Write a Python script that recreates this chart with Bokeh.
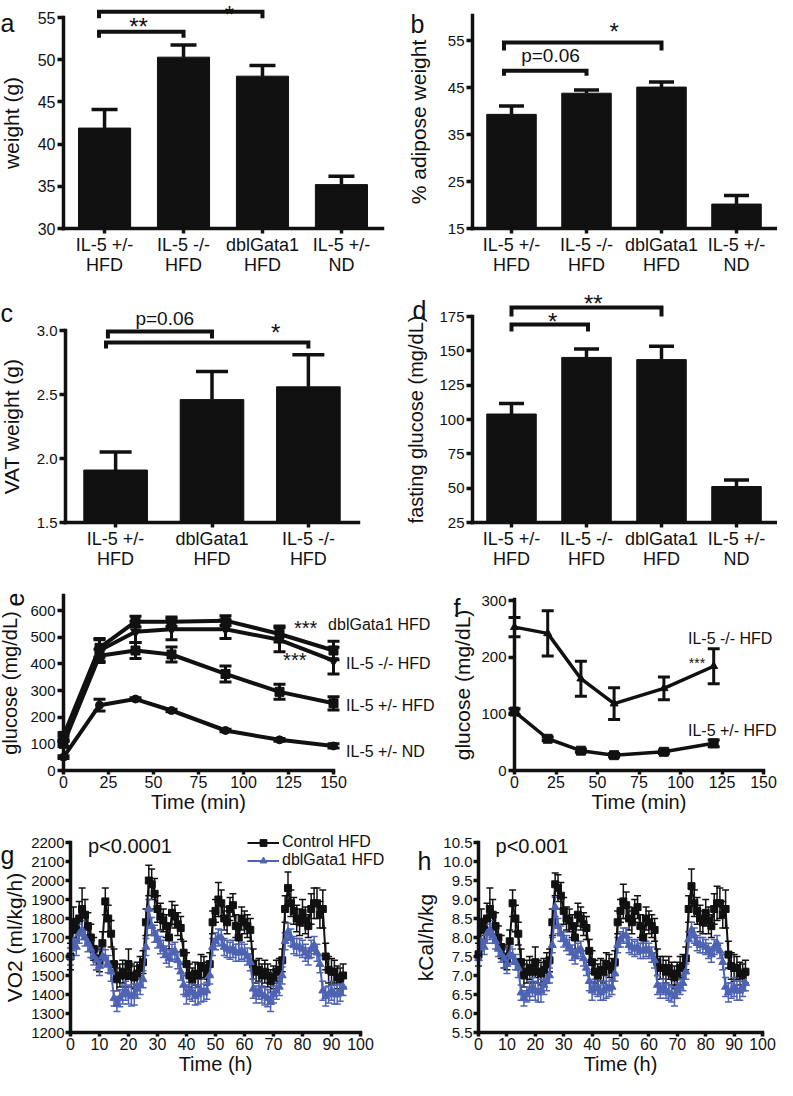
import math
from bokeh.plotting import figure
from bokeh.models import (Range1d, FixedTicker, Label, Legend, LegendItem,
                          PrintfTickFormatter, ColumnDataSource, Whisker, TeeHead)
from bokeh.layouts import row, column
from bokeh.embed import file_html
from bokeh.resources import INLINE
from bokeh.core.properties import value

FONT = "Liberation Sans"
INK = "#111111"
BLUE = "#4f63b3"

# ---------------- data ----------------
# a: body weight
a_groups = ["IL-5 +/-\nHFD", "IL-5 -/-\nHFD", "dblGata1\nHFD", "IL-5 +/-\nND"]
a_mean = [41.9, 50.3, 48.05, 35.2]
a_sem = [2.2, 1.45, 1.25, 1.0]
a_yticks = [30, 35, 40, 45, 50, 55]
a_brk = [(-0.07, 1.0, 53.3, 52.6), (-0.07, 2.0, 55.67, 54.9)]
a_txt = [(0.43, 53.95, "**", 24), (1.58, 55.36, "*", 24)]

# b: % adipose weight
b_groups = ["IL-5 +/-\nHFD", "IL-5 -/-\nHFD", "dblGata1\nHFD", "IL-5 +/-\nND"]
b_mean = [39.3, 43.8, 45.1, 20.2]
b_sem = [1.8, 0.7, 1.1, 1.8]
b_yticks = [15, 25, 35, 45, 55]
b_brk = [(-0.1, 1.0, 48.6, 47.5), (-0.1, 2.0, 54.6, 52.9)]
b_txt = [(0.52, 51.83, "p=0.06", 19), (1.37, 56.86, "*", 24)]

# c: VAT weight
c_groups = ["IL-5 +/-\nHFD", "dblGata1\nHFD", "IL-5 -/-\nHFD"]
c_mean = [1.91, 2.46, 2.56]
c_sem = [0.14, 0.22, 0.25]
c_yticks = [1.5, 2.0, 2.5, 3.0]
c_brk = [(-0.08, 1.0, 2.992, 2.9375), (-0.1, 2.0, 2.906, 2.859)]
c_txt = [(0.51, 3.09, "p=0.06", 19), (1.66, 2.981, "*", 24)]

# d: fasting glucose
d_groups = ["IL-5 +/-\nHFD", "IL-5 -/-\nHFD", "dblGata1\nHFD", "IL-5 +/-\nND"]
d_mean = [104, 145.2, 143.6, 51.2]
d_sem = [7.7, 6.2, 9.7, 4.8]
d_yticks = [25, 50, 75, 100, 125, 150, 175]
d_brk = [(0.0, 1.02, 169.2, 164.1), (0.0, 2.0, 181.6, 175.0)]
d_txt = [(0.55, 171.4, "*", 24), (1.09, 184.2, "**", 24)]

# e: glucose tolerance
e_time = [0, 20, 40, 60, 90, 120, 150]
e_dbl = [130, 460, 558, 558, 562, 512, 450]
e_dbl_err = [12, 35, 20, 18, 18, 30, 35]
e_ko = [120, 450, 520, 530, 530, 490, 412]
e_ko_err = [10, 40, 40, 40, 35, 45, 50]
e_het = [100, 430, 450, 435, 362, 295, 252]
e_het_err = [10, 25, 30, 28, 30, 28, 25]
e_nd = [50, 245, 268, 225, 150, 115, 92]
e_nd_err = [5, 22, 5, 5, 5, 5, 8]
e_xticks = [0, 25, 50, 75, 100, 125, 150]
e_yticks = [0, 100, 200, 300, 400, 500, 600]
e_lab_x = [128, 147, 122, 157, 157, 157]
e_lab_y = [536, 547, 414, 401, 244, 71]
e_lab_t = ["***", "dblGata1 HFD", "***", "IL-5 -/- HFD", "IL-5 +/- HFD", "IL-5 +/- ND"]
e_lab_s = ["20px", "16px", "20px", "16px", "16px", "16px"]

# f: insulin tolerance
f_time = [0, 20, 40, 60, 90, 120]
f_ko = [253, 242, 162, 118, 145, 184]
f_ko_err = [17, 40, 31, 28, 20, 31]
f_het = [104, 56, 35, 27, 33, 48]
f_het_err = [5, 3, 3, 3, 3, 6]
f_xticks = [0, 25, 50, 75, 100, 125, 150]
f_yticks = [0, 100, 200, 300]
f_lab_x = [104.5, 105, 104.5]
f_lab_y = [233, 189, 70.6]
f_lab_t = ["IL-5 -/- HFD", "***", "IL-5 +/- HFD"]
f_lab_s = ["16px", "14px", "16px"]

# g/h: indirect calorimetry, hourly
gh_time = list(range(95))
g_ctrl = [1600, 1780, 1740, 1800, 1850, 1820, 1760, 1700, 1640, 1590,
          1580, 1670, 1890, 1800, 1720, 1560, 1480, 1500, 1520, 1500,
          1560, 1500, 1490, 1510, 1540, 1570, 1780, 2000, 1980, 1930,
          1850, 1810, 1790, 1760, 1700, 1830, 1810, 1770, 1750, 1620,
          1560, 1500, 1480, 1510, 1500, 1550, 1540, 1510, 1560, 1780,
          1840, 1900, 1880, 1800, 1780, 1850, 1870, 1760, 1700, 1800,
          1780, 1760, 1740, 1560, 1520, 1530, 1500, 1520, 1500, 1470,
          1490, 1520, 1530, 1580, 1850, 1960, 1880, 1840, 1800, 1780,
          1830, 1790, 1760, 1850, 1880, 1880, 1820, 1850, 1600, 1530,
          1520, 1520, 1490, 1480, 1500]
g_ctrl_err = [70, 80, 60, 90, 110, 80, 70, 70, 60, 60,
              60, 60, 70, 70, 70, 80, 60, 60, 60, 60,
              80, 60, 60, 60, 60, 60, 70, 80, 80, 80,
              70, 70, 60, 60, 60, 60, 60, 60, 60, 60,
              60, 60, 60, 60, 60, 60, 60, 60, 60, 60,
              60, 90, 70, 60, 60, 60, 60, 60, 70, 60,
              60, 60, 60, 80, 60, 60, 60, 60, 60, 60,
              60, 60, 60, 60, 70, 85, 70, 70, 70, 70,
              70, 70, 60, 80, 80, 80, 70, 100, 70, 70,
              70, 60, 60, 60, 60]
g_dbl = [1600, 1680, 1650, 1720, 1740, 1700, 1670, 1640, 1600, 1580,
         1550, 1600, 1590, 1560, 1520, 1380, 1350, 1380, 1400, 1420,
         1400, 1390, 1400, 1430, 1450, 1480, 1650, 1850, 1760, 1720,
         1690, 1660, 1640, 1610, 1590, 1620, 1630, 1580, 1520, 1450,
         1400, 1420, 1410, 1390, 1400, 1420, 1410, 1420, 1500, 1650,
         1680, 1700, 1700, 1650, 1640, 1630, 1640, 1620, 1620, 1630,
         1620, 1600, 1570, 1430, 1400, 1420, 1400, 1390, 1380, 1360,
         1400, 1420, 1440, 1500, 1680, 1730, 1700, 1660, 1650, 1650,
         1640, 1620, 1600, 1640, 1660, 1620, 1560, 1420, 1390, 1400,
         1420, 1400, 1400, 1410, 1440]
g_dbl_err = [45, 50, 45, 50, 50, 45, 45, 45, 45, 50,
             50, 45, 45, 45, 50, 40, 40, 45, 50, 50,
             50, 50, 55, 50, 50, 45, 45, 50, 45, 45,
             45, 45, 45, 45, 45, 45, 45, 45, 45, 50,
             50, 45, 45, 45, 50, 60, 45, 45, 45, 45,
             45, 45, 40, 45, 45, 45, 45, 45, 45, 45,
             45, 45, 45, 50, 45, 45, 45, 45, 45, 50,
             45, 45, 45, 45, 45, 45, 45, 45, 45, 45,
             45, 45, 45, 45, 45, 45, 45, 50, 50, 45,
             50, 50, 50, 45, 45]
h_ctrl = [7.55, 8.4, 8.2, 8.5, 8.75, 8.6, 8.3, 8.0, 7.75, 7.5,
          7.45, 7.9, 8.9, 8.5, 8.1, 7.35, 7.0, 7.1, 7.2, 7.1,
          7.35, 7.1, 7.05, 7.15, 7.3, 7.4, 8.4, 9.4, 9.3, 9.1,
          8.7, 8.5, 8.45, 8.3, 8.0, 8.6, 8.5, 8.35, 8.25, 7.65,
          7.35, 7.1, 7.0, 7.15, 7.1, 7.3, 7.25, 7.15, 7.35, 8.4,
          8.7, 8.95, 8.85, 8.5, 8.4, 8.7, 8.8, 8.3, 8.0, 8.5,
          8.4, 8.3, 8.2, 7.35, 7.2, 7.2, 7.1, 7.2, 7.05, 6.95,
          7.05, 7.2, 7.25, 7.45, 8.75, 9.35, 8.9, 8.7, 8.5, 8.4,
          8.65, 8.45, 8.3, 8.75, 8.9, 8.9, 8.6, 8.75, 7.55, 7.25,
          7.2, 7.2, 7.05, 7.0, 7.1]
h_ctrl_err = [0.3, 0.35, 0.3, 0.4, 0.55, 0.4, 0.35, 0.3, 0.3, 0.3,
              0.3, 0.3, 0.35, 0.35, 0.3, 0.35, 0.3, 0.3, 0.3, 0.3,
              0.4, 0.3, 0.3, 0.3, 0.3, 0.3, 0.35, 0.3, 0.35, 0.35,
              0.35, 0.3, 0.3, 0.3, 0.3, 0.3, 0.3, 0.3, 0.3, 0.3,
              0.3, 0.3, 0.3, 0.3, 0.3, 0.3, 0.3, 0.3, 0.3, 0.3,
              0.3, 0.45, 0.35, 0.3, 0.3, 0.3, 0.3, 0.3, 0.3, 0.3,
              0.3, 0.3, 0.3, 0.35, 0.3, 0.3, 0.3, 0.3, 0.3, 0.3,
              0.3, 0.3, 0.3, 0.3, 0.35, 0.45, 0.35, 0.35, 0.35, 0.3,
              0.35, 0.35, 0.3, 0.4, 0.45, 0.4, 0.35, 0.5, 0.35, 0.35,
              0.35, 0.3, 0.3, 0.3, 0.3]
h_dbl = [7.45, 7.9, 7.75, 8.1, 8.2, 8.05, 7.9, 7.7, 7.55, 7.45,
         7.3, 7.55, 7.5, 7.35, 7.2, 6.55, 6.4, 6.5, 6.6, 6.7,
         6.6, 6.55, 6.6, 6.75, 6.85, 7.0, 7.8, 8.8, 8.3, 8.1,
         7.95, 7.85, 7.75, 7.6, 7.5, 7.65, 7.7, 7.45, 7.2, 6.85,
         6.6, 6.7, 6.65, 6.55, 6.6, 6.7, 6.65, 6.7, 7.05, 7.8,
         7.95, 8.05, 8.05, 7.8, 7.75, 7.7, 7.75, 7.65, 7.65, 7.7,
         7.65, 7.55, 7.4, 6.75, 6.6, 6.7, 6.6, 6.55, 6.5, 6.45,
         6.6, 6.7, 6.8, 7.1, 7.95, 8.2, 8.05, 7.85, 7.8, 7.8,
         7.75, 7.65, 7.55, 7.75, 7.85, 7.65, 7.35, 6.7, 6.55, 6.6,
         6.7, 6.6, 6.6, 6.65, 6.8]
h_dbl_err = [0.2, 0.25, 0.2, 0.25, 0.25, 0.2, 0.2, 0.2, 0.2, 0.25,
             0.25, 0.2, 0.2, 0.2, 0.25, 0.2, 0.2, 0.2, 0.25, 0.25,
             0.25, 0.25, 0.3, 0.25, 0.25, 0.2, 0.2, 0.25, 0.2, 0.2,
             0.2, 0.2, 0.2, 0.2, 0.2, 0.2, 0.2, 0.2, 0.2, 0.25,
             0.25, 0.2, 0.2, 0.2, 0.25, 0.3, 0.2, 0.2, 0.2, 0.2,
             0.2, 0.2, 0.2, 0.2, 0.2, 0.2, 0.2, 0.2, 0.2, 0.2,
             0.2, 0.2, 0.2, 0.25, 0.2, 0.2, 0.2, 0.2, 0.2, 0.25,
             0.2, 0.2, 0.2, 0.2, 0.2, 0.2, 0.2, 0.2, 0.2, 0.2,
             0.2, 0.2, 0.2, 0.2, 0.2, 0.2, 0.2, 0.25, 0.25, 0.2,
             0.25, 0.25, 0.25, 0.2, 0.2]
g_yticks = list(range(1200, 2201, 100))
h_yticks = [5.5, 6.0, 6.5, 7.0, 7.5, 8.0, 8.5, 9.0, 9.5, 10.0, 10.5]
gh_xticks = list(range(0, 101, 10))


# ---------------- helpers ----------------
def make_panel(W, H, xpx, xval, ypx, yval):
    """Whole-canvas frame; ranges chosen so that xval/yval land on given pixels."""
    kx = (xpx[1] - xpx[0]) / (xval[1] - xval[0])
    ky = (ypx[0] - ypx[1]) / (yval[1] - yval[0])
    xr = (xval[0] - xpx[0] / kx, xval[0] + (W - xpx[0]) / kx)
    yr = (yval[0] - (H - ypx[0]) / ky, yval[0] + ypx[0] / ky)
    p = figure(width=W, height=H, x_range=Range1d(*xr), y_range=Range1d(*yr),
               output_backend="svg", toolbar_location=None)
    p.min_border_left = p.min_border_right = 0
    p.min_border_top = p.min_border_bottom = 0
    p.title.visible = False
    p.outline_line_color = None
    p.grid.visible = False
    p.background_fill_color = "white"
    p.border_fill_color = "white"
    p.xaxis[0].fixed_location = yval[0]
    p.yaxis[0].fixed_location = xval[0]
    return p


def style_axis(ax, tick_size, label_size=21, tick_out=6, standoff=2, als=5):
    ax.axis_line_width = 3.5
    ax.axis_line_color = INK
    ax.axis_line_cap = "square"
    ax.major_tick_line_width = 3.5
    ax.major_tick_line_color = INK
    ax.major_tick_in = 0
    ax.major_tick_out = int(tick_out)
    ax.minor_tick_line_color = None
    ax.major_label_text_font = FONT
    ax.major_label_text_font_size = f"{tick_size}px"
    ax.major_label_text_color = INK
    ax.major_label_standoff = int(standoff)
    ax.axis_label_text_font = FONT
    ax.axis_label_text_font_size = f"{label_size}px"
    ax.axis_label_text_font_style = "normal"
    ax.axis_label_text_color = INK
    ax.axis_label_standoff = int(round(als))


def letter(p, H, x, y, text, size=25, angle=0.0, align="left", baseline="alphabetic"):
    p.add_layout(Label(x=x, y=H - y, x_units="screen", y_units="screen",
                       text=text, text_font=FONT, text_font_size=f"{size}px",
                       text_color=INK, text_align=align, text_baseline=baseline,
                       angle=angle))


def bar_panel(W, H, fl, fr, ypx, yval, ybounds, yticks, groups, means, sems,
              brk, txt, ylabel, als, cap, ytick_size=15, label_size=21, fmt=None):
    n = len(groups)
    xval = (-0.52, n - 0.48)
    p = make_panel(W, H, (fl, fr), xval, ypx, yval)
    xs = list(range(n))
    p.vbar(x=xs, top=means, bottom=yval[0], width=0.66, fill_color=INK, line_color=INK)
    src = ColumnDataSource(dict(x=xs, lo=means, hi=[m + s for m, s in zip(means, sems)]))
    p.add_layout(Whisker(source=src, base="x", lower="lo", upper="hi", line_color=INK,
                         line_width=3.5, lower_head=None,
                         upper_head=TeeHead(size=cap, line_color=INK, line_width=3.5)))
    p.multi_line(xs=[[b[0], b[0], b[1], b[1]] for b in brk],
                 ys=[[b[3], b[2], b[2], b[3]] for b in brk],
                 line_width=4, line_color=INK, line_join="miter")
    tsrc = ColumnDataSource(dict(x=[t[0] for t in txt], y=[t[1] for t in txt],
                                 t=[t[2] for t in txt], s=[f"{t[3]}px" for t in txt]))
    p.text(x="x", y="y", text="t", text_font_size="s", source=tsrc,
           text_font=value(FONT), text_align="center", text_baseline="middle",
           text_color=INK)
    xa, ya = p.xaxis[0], p.yaxis[0]
    style_axis(xa, 18, tick_out=5, standoff=1)
    xa.major_label_text_line_height = 1.0
    xa.ticker = FixedTicker(ticks=xs)
    xa.major_label_overrides = {i: g for i, g in enumerate(groups)}
    xa.bounds = xval
    style_axis(ya, ytick_size, label_size, tick_out=6, standoff=2, als=als)
    ya.ticker = FixedTicker(ticks=yticks)
    ya.bounds = ybounds
    if fmt:
        ya.formatter = PrintfTickFormatter(format=fmt)
    ya.axis_label = ylabel
    return p


def series(p, t, y, err, marker, size, color, lw, cap, elw):
    src = ColumnDataSource(dict(t=t, y=y, lo=[a - b for a, b in zip(y, err)],
                                hi=[a + b for a, b in zip(y, err)]))
    p.add_layout(Whisker(source=src, base="t", lower="lo", upper="hi", line_color=color,
                         line_width=elw,
                         lower_head=TeeHead(size=cap, line_color=color, line_width=elw),
                         upper_head=TeeHead(size=cap, line_color=color, line_width=elw)))
    r1 = p.line("t", "y", source=src, line_width=lw, line_color=color)
    r2 = p.scatter("t", "y", source=src, marker=marker, size=size,
                   fill_color=color, line_color=color)
    return r1, r2


# ---------------- row 1 ----------------
pa = bar_panel(388, 276, 63, 382, (228, 17), (30, 55), (30, 55), a_yticks, a_groups,
               a_mean, a_sem, a_brk, a_txt, "weight (g)", 12, 26, ytick_size=16)
letter(pa, 276, 0, 22, "a")

pb = bar_panel(389, 276, 84, 387, (228, 40.1), (15, 55), (15, 60.35), b_yticks, b_groups,
               b_mean, b_sem, b_brk, b_txt, "% adipose weight", 15, 25)
letter(pb, 276, 22, 23, "b")

# ---------------- row 2 ----------------
pc = bar_panel(388, 294, 65, 358, (246, 54), (1.5, 3.0), (1.5, 3.0), c_yticks, c_groups,
               c_mean, c_sem, c_brk, c_txt, "VAT weight (g)", 11, 32, fmt="%.1f")
letter(pc, 294, 0, 36, "c")

pd_ = bar_panel(389, 294, 84, 387, (246, 40), (25, 175), (25, 175), d_yticks, d_groups,
                d_mean, d_sem, d_brk, d_txt, "fasting glucose (mg/dL)", 9, 25,
                label_size=20)
letter(pd_, 294, 24, 33, "d")

# ---------------- row 3 ----------------
pe = make_panel(440, 248, (63, 333), (0, 150), (200, 40), (0, 600))
series(pe, e_time, e_nd, e_nd_err, "circle", 8, INK, 4, 12, 3)
series(pe, e_time, e_het, e_het_err, "square", 9, INK, 4, 12, 3)
series(pe, e_time, e_ko, e_ko_err, "inverted_triangle", 10, INK, 4, 12, 3)
series(pe, e_time, e_dbl, e_dbl_err, "square", 9, INK, 4, 12, 3)
pe.text(x=e_lab_x, y=e_lab_y, text=e_lab_t, text_font_size=e_lab_s,
        text_font=value(FONT), text_align="left", text_baseline="middle", text_color=INK)
xa, ya = pe.xaxis[0], pe.yaxis[0]
style_axis(xa, 16, 20, tick_out=4, standoff=1, als=0)
xa.ticker = FixedTicker(ticks=e_xticks)
xa.bounds = (0, 150)
xa.axis_label = "Time (min)"
style_axis(ya, 15, 20, tick_out=6, standoff=2, als=6)
ya.ticker = FixedTicker(ticks=e_yticks)
ya.bounds = (0, 656)
ya.axis_label = "glucose (mg/dL)"
letter(pe, 248, 14, 29, "e", size=25, angle=math.pi / 2, align="center", baseline="middle")

pf = make_panel(337, 248, (74, 323), (0, 150), (200, 30), (0, 300))
series(pf, f_time, f_het, f_het_err, "square", 9, INK, 3.5, 12, 3)
series(pf, f_time, f_ko, f_ko_err, "triangle", 8, INK, 3.5, 12, 3)
pf.text(x=f_lab_x, y=f_lab_y, text=f_lab_t, text_font_size=f_lab_s,
        text_font=value(FONT), text_align="left", text_baseline="middle", text_color=INK)
xa, ya = pf.xaxis[0], pf.yaxis[0]
style_axis(xa, 16, 20, tick_out=4, standoff=1, als=0)
xa.ticker = FixedTicker(ticks=f_xticks)
xa.bounds = (0, 150)
xa.axis_label = "Time (min)"
style_axis(ya, 15, 21, tick_out=6, standoff=2, als=4)
ya.ticker = FixedTicker(ticks=f_yticks)
ya.bounds = (0, 302)
ya.axis_label = "glucose (mg/dL)"
letter(pf, 248, 13, 37, "f")


# ---------------- row 4 ----------------
def calorimetry(W, fl, fr, yval, yticks, ctrl, ctrl_err, dbl, dbl_err, ylabel, als,
                fmt=None):
    p = make_panel(W, 262, (fl, fr), (0, 100), (214, 24), yval)
    c1 = series(p, gh_time, ctrl, ctrl_err, "square", 7, INK, 2, 7, 1.5)
    c2 = series(p, gh_time, dbl, dbl_err, "triangle", 8, BLUE, 2, 7, 1.5)
    xa, ya = p.xaxis[0], p.yaxis[0]
    style_axis(xa, 16, 20, tick_out=4, standoff=1, als=0)
    xa.ticker = FixedTicker(ticks=gh_xticks)
    xa.bounds = (0, 100)
    xa.axis_label = "Time (h)"
    style_axis(ya, 15, 21, tick_out=5, standoff=1, als=als)
    ya.ticker = FixedTicker(ticks=yticks)
    ya.bounds = yval
    if fmt:
        ya.formatter = PrintfTickFormatter(format=fmt)
    ya.axis_label = ylabel
    return p, c1, c2


pg, g1, g2 = calorimetry(390, 70, 360, (1200, 2200), g_yticks, g_ctrl, g_ctrl_err,
                         g_dbl, g_dbl_err, "VO2 (ml/kg/h)", 2)
pg.text(x=[6.0], y=[2184], text=["p<0.0001"], text_font=value(FONT),
        text_font_size=value("20px"), text_baseline="middle", text_color=INK)
leg = Legend(items=[LegendItem(label="Control HFD", renderers=list(g1)),
                    LegendItem(label="dblGata1 HFD", renderers=list(g2))],
             location=(247, 211), orientation="vertical", border_line_color=None,
             background_fill_alpha=0, padding=0, margin=0, spacing=0,
             glyph_width=32, glyph_height=17, label_height=17, label_standoff=3,
             label_text_font=FONT, label_text_font_size="16px", label_text_color=INK)
pg.add_layout(leg)
letter(pg, 262, 0, 36, "g")

ph, h1, h2 = calorimetry(387, 88, 372, (5.5, 10.5), h_yticks, h_ctrl, h_ctrl_err,
                         h_dbl, h_dbl_err, "kCal/h/kg", 3, fmt="%.1f")
ph.text(x=[6.0], y=[10.42], text=["p<0.001"], text_font=value(FONT),
        text_font_size=value("20px"), text_baseline="middle", text_color=INK)
letter(ph, 262, 27, 42, "h")

layout = column(row(pa, pb), row(pc, pd_), row(pe, pf), row(pg, ph))
open("out.html", "w").write(file_html(layout, INLINE, title="IL-5 / dblGata1 metabolic phenotype"))
